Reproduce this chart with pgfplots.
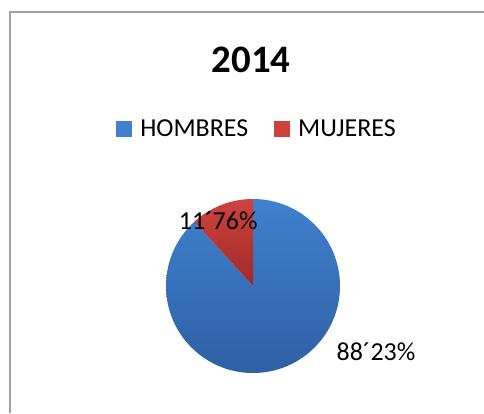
\documentclass[border=0pt]{standalone}
\usepackage{pgfplots}
\pgfplotsset{compat=1.18}
\usepackage{pgfplotstable}
\usepackage{fontspec}
\setmainfont{Carlito}

\definecolor{hblue}{RGB}{64,128,206}
\definecolor{hbluedark}{RGB}{46,96,164}
\definecolor{mred}{RGB}{206,66,62}
\definecolor{mreddark}{RGB}{158,42,40}
\definecolor{framegray}{RGB}{160,160,160}

% porcentaje por sexo, 2014
\pgfplotstableread{
sexo    valor
HOMBRES 88.23
MUJERES 11.76
}\datos

\begin{document}
\begin{tikzpicture}[x=1bp,y=1bp]
\path[use as bounding box] (0,0) rectangle (484,413);
\draw[framegray, line width=2bp] (10,0) -- (10,401) -- (484,401);
\node[font=\bfseries\fontsize{39}{44}\selectfont] at (251,353) {2014};

\pgfplotstablegetelem{0}{valor}\of\datos \let\vh\pgfplotsretval
\pgfplotstablegetelem{1}{valor}\of\datos \let\vm\pgfplotsretval
\pgfmathsetmacro\aend{90-3.6*\vh}

\begin{axis}[
    at={(253bp,127bp)}, anchor=origin,
    width=174bp, height=174bp, scale only axis,
    xmin=-1, xmax=1, ymin=-1, ymax=1,
    hide axis, clip=false,
    legend columns=2,
    legend style={at={(rel axis cs:0.523,1.405)}, anchor=center,
                  draw=none, fill=none,
                  font=\fontsize{26}{30}\selectfont,
                  /tikz/every odd column/.append style={column sep=6bp},
                  /tikz/every even column/.append style={column sep=24bp}},
    legend image code/.code={\fill[#1] (0bp,-8bp) rectangle (16bp,8bp);},
]
\addlegendimage{fill=hblue, draw=none}
\addlegendentry{HOMBRES}
\addlegendimage{fill=mred, draw=none}
\addlegendentry{MUJERES}

\shade[top color=hblue, bottom color=hbluedark]
  (axis cs:0,0) -- (axis cs:0,1) arc[start angle=90, end angle=\aend, radius=87bp] -- cycle;
\shade[top color=mred, bottom color=mreddark]
  (axis cs:0,0) -- ++(\aend:87bp) arc[start angle=\aend, end angle=-270, radius=87bp] -- cycle;

\node[font=\fontsize{26}{30}\selectfont] at (axis cs:-0.40,0.747) {11´76\%};
\node[font=\fontsize{26}{30}\selectfont] at (axis cs:1.414,-0.759) {88´23\%};
\end{axis}
\end{tikzpicture}
\end{document}
